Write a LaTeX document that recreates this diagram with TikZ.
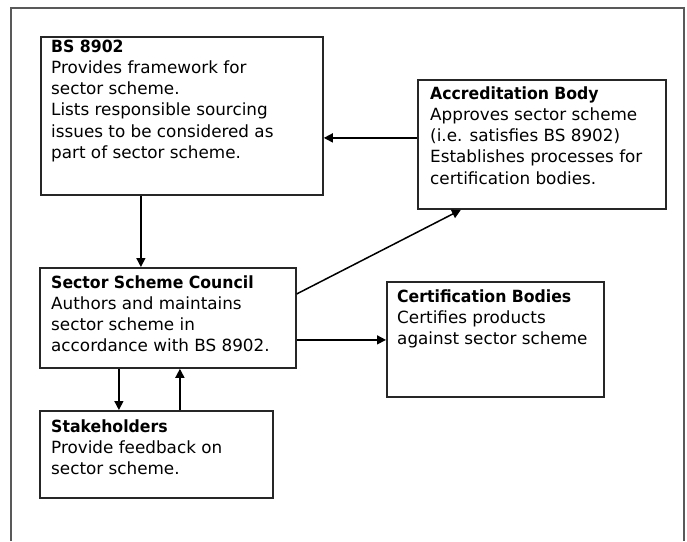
\documentclass[tikz,border=0pt]{standalone}
\usepackage{fontspec}
\usepackage{graphicx}
\setmainfont{DejaVu Sans}
\usetikzlibrary{arrows.meta,calc}
\newcommand{\hdline}[1]{\scalebox{0.935}[1]{\textbf{#1}}}
\begin{document}
\begin{tikzpicture}[x=1pt,y=-1pt,
  box/.style={draw=black!85,line width=1.8pt,inner sep=0pt,anchor=north west},
  txt/.style={inner sep=0pt,anchor=base west,font=\fontsize{16.8pt}{21.3pt}\selectfont},
  arr/.style={draw=black,line width=1.5pt,-{Triangle[length=9pt,width=9pt]}},
  frame/.style={draw=black!65,line width=1.2pt}]
\useasboundingbox (0,0) rectangle (687,541);
% outer frame
\coordinate (fbl) at (11,541);
\coordinate (ftl) at (11,8);
\coordinate (ftr) at (684,8);
\coordinate (fbr) at (684,541);
\draw[frame] (fbl) -- (ftl) -- (ftr) -- (fbr);
% boxes
\node[box,minimum width=282,minimum height=158] (bs) at (40,36) {};
\node[box,minimum width=248,minimum height=129] (accr) at (417,79) {};
\node[box,minimum width=256,minimum height=100] (ssc) at (39,267) {};
\node[box,minimum width=217,minimum height=115] (cert) at (386,281) {};
\node[box,minimum width=233,minimum height=87] (stake) at (39,410) {};
% texts
\node[txt] (bst) at (51,52) {\parbox[t]{270pt}{\hdline{BS 8902}\\Provides framework for\\sector scheme.\\Lists responsible sourcing\\issues to be considered as\\part of sector scheme.}};
\node[txt] (accrt) at (430,99) {\parbox[t]{235pt}{\hdline{Accreditation Body}\\Approves sector scheme\\(i.e. satisfies BS 8902)\\Establishes processes for\\certification bodies.}};
\node[txt] (ssct) at (51,288) {\parbox[t]{245pt}{\hdline{Sector Scheme Council}\\Authors and maintains\\sector scheme in\\accordance with BS 8902.}};
\node[txt] (certt) at (397,302) {\parbox[t]{205pt}{\hdline{Certification Bodies}\\Certifies products\\against sector scheme}};
\node[txt] (staket) at (51,432) {\parbox[t]{220pt}{\hdline{Stakeholders}\\Provide feedback on\\sector scheme.}};
% connectors
\draw[arr] ([yshift=6.5pt]accr.west) -- ([yshift=6.5pt]accr.west -| bs.east);
\draw[arr] ([xshift=-41pt]bs.south) -- ([xshift=-41pt]bs.south |- ssc.north);
\draw[arr] ([yshift=24pt]ssc.east) -- ([xshift=-81pt]accr.south);
\draw[arr] ([yshift=-0.5pt]cert.west -| ssc.east) -- ([yshift=-0.5pt]cert.west);
\draw[arr] ([xshift=-49pt]ssc.south) -- ([xshift=-49pt]ssc.south |- stake.north);
\draw[arr] ([xshift=23.5pt]stake.north) -- ([xshift=23.5pt]stake.north |- ssc.south);
\end{tikzpicture}
\end{document}
